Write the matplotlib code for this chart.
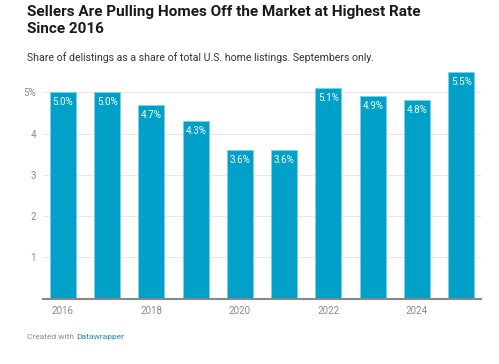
import matplotlib
matplotlib.use("Agg")
import matplotlib.pyplot as plt

plt.rcParams.update({"font.family": ["Roboto", "DejaVu Sans"]})

years = [2016, 2017, 2018, 2019, 2020, 2021, 2022, 2023, 2024, 2025]
share = [5.0, 5.0, 4.7, 4.3, 3.6, 3.6, 5.1, 4.9, 4.8, 5.5]
xtick_years = [2016, 2018, 2020, 2022, 2024]
yticks = [1, 2, 3, 4, 5]
ytick_labels = ["1", "2", "3", "4", "5%"]

BAR = "#00a0c8"
fig = plt.figure(figsize=(4.99, 3.64), dpi=100)
ax = fig.add_axes([0.0862, 0.1794, 0.8778, 0.6297])

x = list(range(len(years)))
ax.bar(x, share, width=0.59, color=BAR, edgecolor="#7fd0e4", linewidth=0.6, zorder=3)
for xi, v in zip(x, share):
    ax.text(xi, v - 0.12, f"{v:.1f}%", ha="center", va="top", color="white",
            fontsize=7, zorder=4)

ax.set_xlim(-0.45, len(years) - 0.55)
ax.set_ylim(0, 5.55)
ax.set_yticks(yticks)
ax.set_yticklabels(ytick_labels)
ax.set_xticks([years.index(y) for y in xtick_years])
ax.set_xticklabels([str(y) for y in xtick_years])
ax.tick_params(axis="both", length=0, labelsize=7, labelcolor="#8a8a8a")
ax.tick_params(axis="y", pad=5)
ax.tick_params(axis="x", pad=5)
ax.grid(axis="y", color="#e8e8e8", linewidth=0.8, zorder=0)
for s in ["top", "right", "left"]:
    ax.spines[s].set_visible(False)
ax.spines["bottom"].set_color("#888888")
ax.spines["bottom"].set_linewidth(1.5)
ax.spines["bottom"].set_zorder(5)

fig.text(0.054, 0.985, "Sellers Are Pulling Homes Off the Market at Highest Rate\nSince 2016",
         ha="left", va="top", fontsize=11, fontweight="bold", color="#1a1a1a",
         linespacing=1.2)
fig.text(0.054, 0.843, "Share of delistings as a share of total U.S. home listings. Septembers only.",
         ha="left", va="center", fontsize=7.6, color="#333333")
t = fig.text(0.054, 0.074, "Created with ", ha="left", va="center", fontsize=6,
             color="#8a8a8a")
fig.canvas.draw()
bb = t.get_window_extent()
fig.text(bb.x1 / fig.bbox.width, 0.074, "Datawrapper", ha="left", va="center",
         fontsize=6, color="#1f88b0")

fig.savefig("out.png", dpi=100)
